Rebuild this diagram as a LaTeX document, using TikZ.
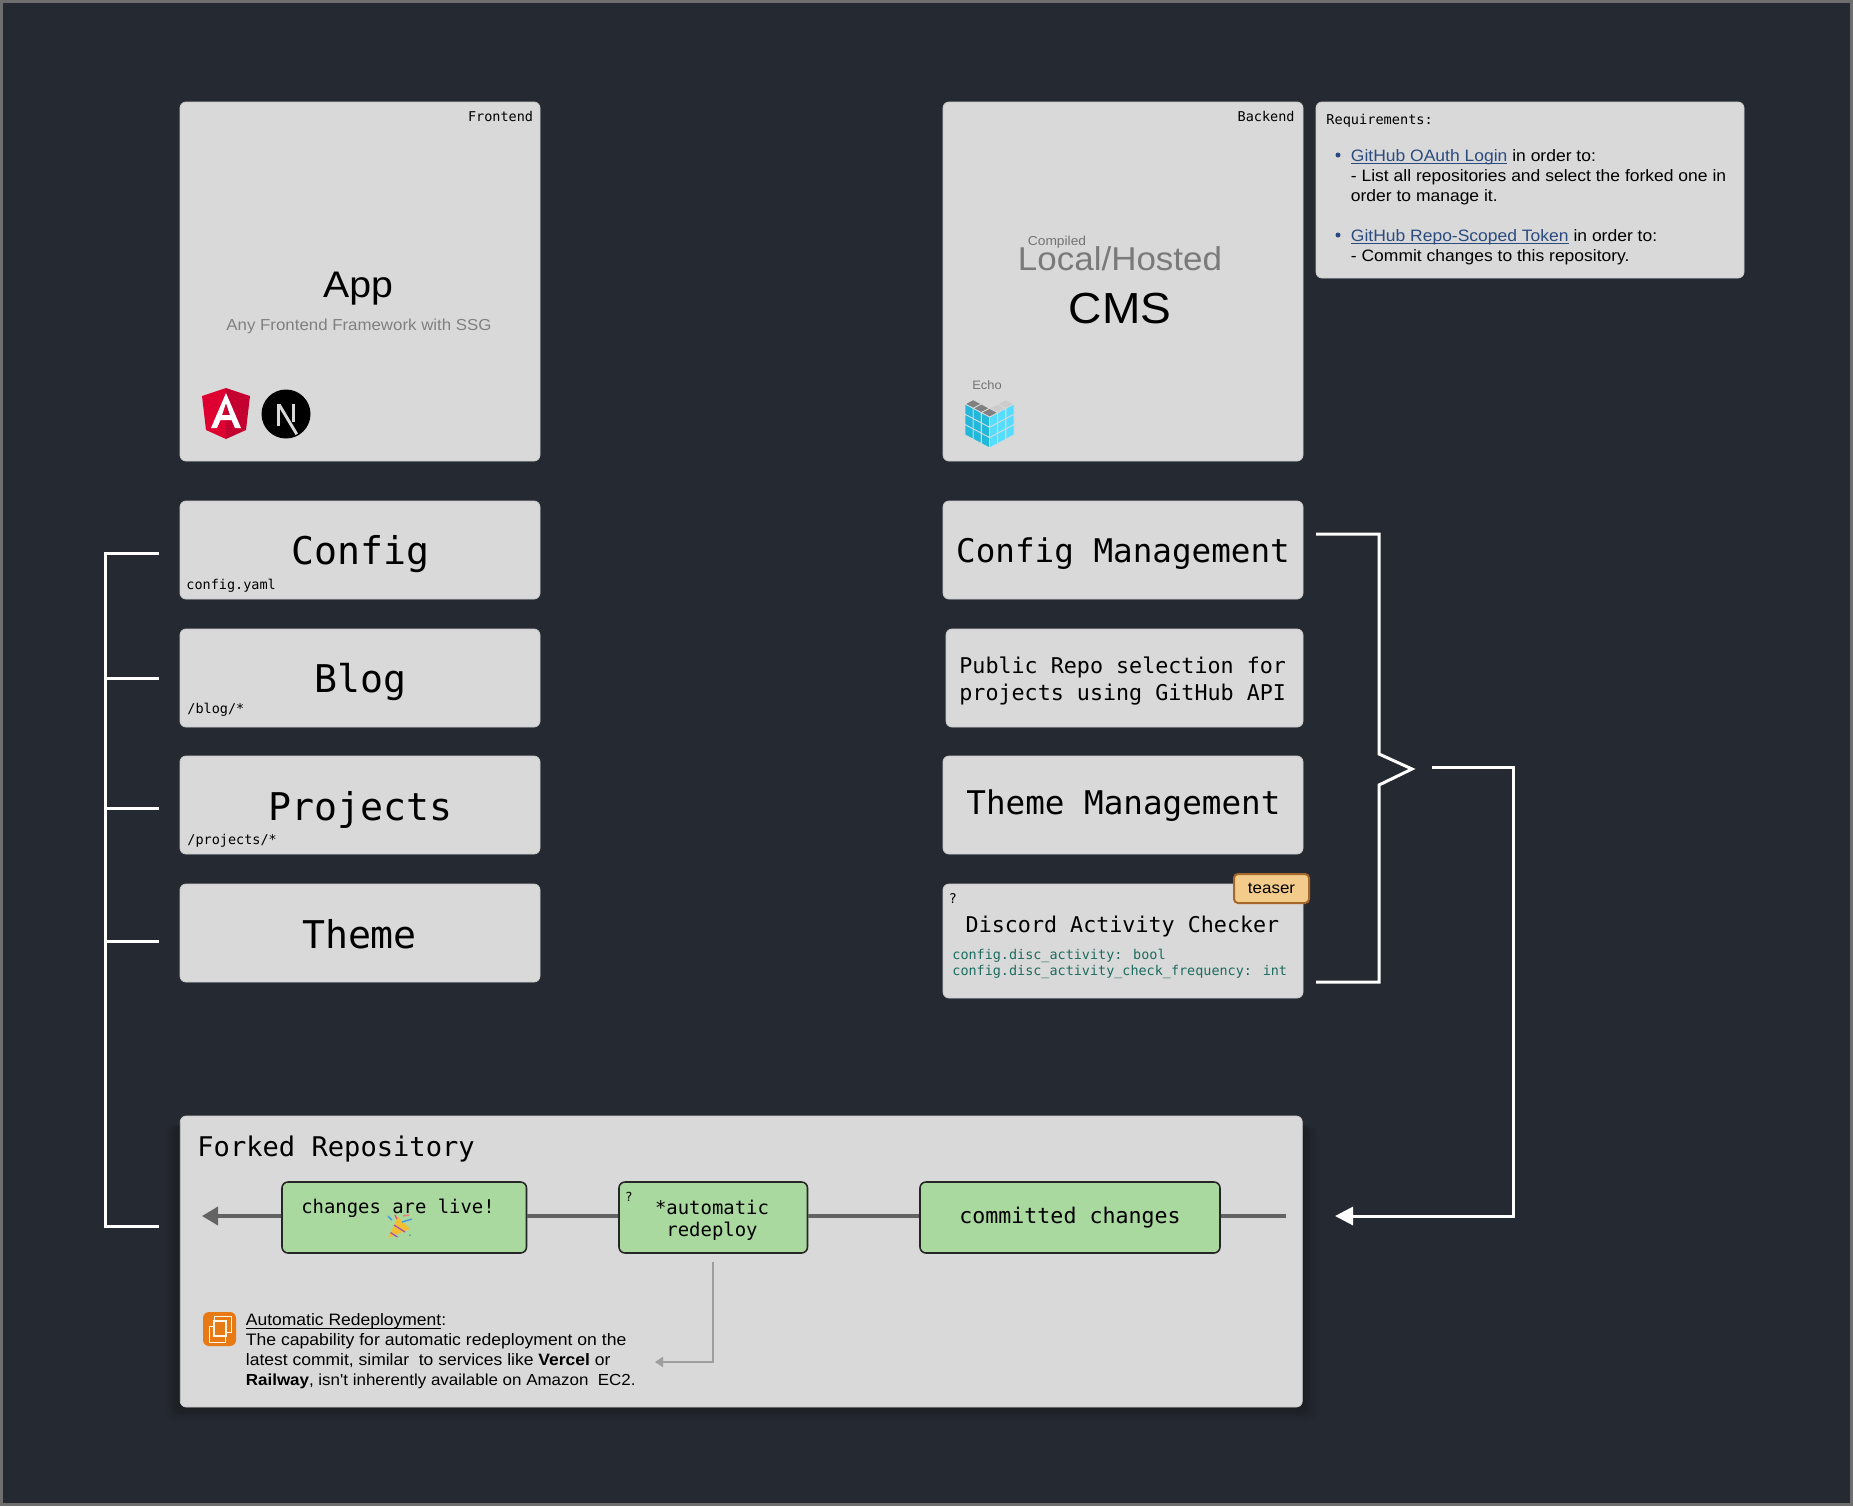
\documentclass[tikz,border=0pt]{standalone}
\usepackage{fontspec}
\usetikzlibrary{arrows.meta,calc}
\setmainfont{Liberation Sans}
\newfontfamily\monof{DejaVu Sans Mono}
\newfontfamily\sansf[FakeStretch=1.06]{Liberation Sans}
\newcommand\fz[1]{\fontsize{\fpeval{#1*0.5}}{\fpeval{#1*0.6}}\selectfont}
\newcommand\ulsmash[1]{\underline{\smash{#1}}}
\definecolor{bgdark}{HTML}{252A32}
\definecolor{frameg}{HTML}{6E6E6E}
\definecolor{panel}{HTML}{D9D9D9}
\definecolor{greenbox}{HTML}{AAD9A0}
\definecolor{linkc}{HTML}{2A4B80}
\definecolor{teal}{HTML}{1C6B5F}
\definecolor{flowc}{HTML}{636363}
\tikzset{
  panelbox/.style={fill=panel,draw=panel!93!black,line width=0.4pt,rounded corners=3pt,inner sep=0pt},
  greenb/.style={fill=greenbox,draw=black!85,line width=0.8pt,rounded corners=3pt,inner sep=0pt,minimum height=35.5pt,font=\monof},
  wire/.style={draw=white,line width=1.5pt,line join=miter},
  flow/.style={draw=flowc,line width=1.8pt},
  mono/.style={inner sep=0pt,font=\monof,text=black},
  sans/.style={inner sep=0pt,font=\sansf,text=black},
}
\begin{document}
\begin{tikzpicture}[x=0.5pt,y=-0.5pt]
\useasboundingbox (0,0) rectangle (1853,1506);
\fill[frameg] (0,0) rectangle (1853,1506);
\fill[bgdark] (3,3) rectangle (1850,1503);
% shadow of forked panel
\foreach \o in {14,11,8,5,2}
  \fill[black,opacity=0.05,rounded corners=4pt] ($(180,1125)+(-\o,0)$) rectangle ($(1302.5,1407)+(\o,\o)$);
% panels
\node[panelbox,minimum width=180pt,minimum height=179.5pt] (frontend) at (360,281.5) {};
\node[panelbox,minimum width=180pt,minimum height=179.5pt] (backend) at (1123,281.5) {};
\node[panelbox,minimum width=214pt,minimum height=88pt] (req) at (1530,190) {};
\node[panelbox,minimum width=180pt,minimum height=49pt] (config) at (360,550) {};
\node[panelbox,minimum width=180pt,minimum height=49pt] (blog) at (360,678) {};
\node[panelbox,minimum width=180pt,minimum height=49pt] (projects) at (360,805) {};
\node[panelbox,minimum width=180pt,minimum height=49pt] (theme) at (360,933) {};
\node[panelbox,minimum width=180pt,minimum height=49pt] (cfgm) at (1123,550) {};
\node[panelbox,minimum width=178.5pt,minimum height=49pt] (repo) at (1124.5,678) {};
\node[panelbox,minimum width=180pt,minimum height=49pt] (themem) at (1123,805) {};
\node[panelbox,minimum width=180pt,minimum height=57pt] (discord) at (1123,941) {};
\node[panelbox,minimum width=561pt,minimum height=145.5pt] (fork) at (741.25,1261.5) {};
% frontend text
\node[mono,anchor=east] (fe) at (533.5,116) {\fz{13.5}Frontend};
\node[sans] (app) at (358,288.5) {\fz{37}App};
\node[sans,text=black!50] (anyfw) at (359,326.5) {\fz{15.9}Any Frontend Framework with SSG};
% angular
\fill[fill={rgb,255:red,221;green,0;blue,49}] (226,388) -- (202,396) -- (206,430) -- (226,439) -- cycle;
\fill[fill={rgb,255:red,195;green,0;blue,47}] (226,388) -- (250,396) -- (246,430) -- (226,439) -- cycle;
\fill[white,even odd rule] (226,393) -- (211,428) -- (217,428) -- (220.5,420) -- (231.5,420) -- (235,428) -- (241,428) -- cycle
   (226,403) -- (222,415) -- (230,415) -- cycle;
% next
\fill[black] (286,414) circle[radius=24.5];
\fill[white!85!black] (277,404) rectangle (280,426);
\fill[white!85!black] (292,404) rectangle (295,422);
\fill[white!85!black] (277,404) -- (280.5,404) -- (298,433.5) -- (295.5,435) -- cycle;
% backend text
\node[mono,anchor=east] (be) at (1295,116) {\fz{13.5}Backend};
\node[sans,text=black!55] (compiled) at (1057,242) {\fz{13}Compiled};
\node[sans,text=black!52] (local) at (1120,259) {\fz{33}Local/Hosted};
\node[sans] (cms) at (1120,309) {\fz{43.5}CMS};
\node[sans,text=black!55] (echo) at (987,385) {\fz{12.2}Echo};
% cube
\foreach \i in {0,1,2}{
  \pgfmathsetmacro\xl{965+8.17*\i}\pgfmathsetmacro\yl{404+4.33*\i}
  \pgfmathsetmacro\xr{989.5+8.17*\i}\pgfmathsetmacro\yr{417-4.33*\i}
  \fill[black!50,draw=panel,line width=0.4pt] (\xl,\yl) -- ++(8.17,4.33) -- ++(8.17,-4.33) -- ++(-8.17,-4.33) -- cycle;
  \fill[black!20,draw=panel,line width=0.4pt] (\xr,\yr) -- ++(8.17,-4.33) -- ++(-8.17,-4.33) -- ++(-8.17,4.33) -- cycle;
  \foreach \j in {0,1,2}{
    \fill[fill={rgb,255:red,34;green,184;blue,220},draw=panel,line width=0.4pt] ($(\xl,\yl)+(0,10.3*\j)$) -- ++(8.17,4.33) -- ++(0,10.3) -- ++(-8.17,-4.33) -- cycle;
    \fill[fill={rgb,255:red,85;green,221;blue,255},draw=panel,line width=0.4pt] ($(\xr,\yr)+(0,10.3*\j)$) -- ++(8.17,-4.33) -- ++(0,10.3) -- ++(-8.17,4.33) -- cycle;
  }
}
% requirements
\node[mono,anchor=west] (reqt) at (1326,120.5) {\fz{13.6}Requirements:};
\fill[linkc] (1338,155) circle[radius=2.5];
\fill[linkc] (1338,235) circle[radius=2.5];
\node[sans,anchor=base west] (r1) at (1350.5,161) {\fz{16.5}\textcolor{linkc}{\ulsmash{GitHub OAuth Login}} in order to:};
\node[sans,anchor=base west] (r2) at (1350.5,181) {\fz{16.5}- List all repositories and select the forked one in};
\node[sans,anchor=base west] (r3) at (1350.5,201) {\fz{16.5}order to manage it.};
\node[sans,anchor=base west] (r4) at (1350.5,241) {\fz{16.5}\textcolor{linkc}{\ulsmash{GitHub Repo-Scoped Token}} in order to:};
\node[sans,anchor=base west] (r5) at (1350.5,261) {\fz{16.5}- Commit changes to this repository.};
% left column
\node[mono] (t1) at (360.5,554.5) {\fz{38.2}Config};
\node[mono,anchor=west] (s1) at (186,586) {\fz{13.5}config.yaml};
\node[mono] (t2) at (360.5,681.5) {\fz{38.2}Blog};
\node[mono,anchor=west] (s2) at (187,710) {\fz{13.5}/blog/*};
\node[mono] (t3) at (360.5,809.5) {\fz{38.2}Projects};
\node[mono,anchor=west] (s3) at (187,841) {\fz{13.5}/projects/*};
\node[mono] (t4) at (359.5,934) {\fz{38.2}Theme};
% right column
\node[mono] (m1) at (1123,553.5) {\fz{32.6}Config Management};
\node[mono,anchor=west] (m2a) at (959,667.5) {\fz{21.7}Public Repo selection for};
\node[mono,anchor=west] (m2b) at (959,694.5) {\fz{21.7}projects using GitHub API};
\node[mono] (m3) at (1123.5,805.5) {\fz{32.6}Theme Management};
\node[mono] (q1) at (953,899) {\fz{13.4}?};
\node[mono] (m4) at (1122.5,926) {\fz{21.7}Discord Activity Checker};
\node[mono,anchor=west,text=teal] (c1) at (952,956) {\fz{13.45}config.disc\_activity: bool};
\node[mono,anchor=west,text=teal] (c2) at (952,972) {\fz{13.45}config.disc\_activity\_check\_frequency: int};
\node[fill={rgb,255:red,243;green,204;blue,139},draw={rgb,255:red,165;green,103;blue,42},line width=1pt,rounded corners=2pt,minimum width=37.5pt,minimum height=14.5pt,inner sep=0pt,font=\sansf] (teaser) at (1271.5,888.5) {\fz{16}teaser};
% forked
\node[mono,anchor=west] (forkt) at (197,1149.5) {\fz{27.1}Forked Repository};
\coordinate (inR) at (1286,1216);
\coordinate (outL) at (202,1216);
\node[greenb,minimum width=122.25pt] (live) at (404.25,1217.5) {};
\node[greenb,minimum width=94.25pt] (redeploy) at (713.25,1217.5) {};
\node[greenb,minimum width=150pt] (committed) at (1070,1217.5) {\fz{21.6}committed changes};
\draw[flow] (inR) -- (inR -| committed.east);
\draw[flow] (committed.west |- inR) -- (redeploy.east |- inR);
\draw[flow] (redeploy.west |- inR) -- (live.east |- inR);
\draw[flow,-{Triangle[length=8pt,width=9pt]}] (live.west |- inR) -- (outL);
\node[mono] (livet) at (398,1208.5) {\fz{18.9}changes are live!};
\node[mono] (auto1) at (712,1207) {\fz{18.9}*automatic};
\node[mono] (auto2) at (712,1231) {\fz{18.9}redeploy};
\node[mono] (q2) at (629,1197) {\fz{12.5}?};
% popper
\fill[fill={rgb,255:red,244;green,190;blue,50}] (388,1238) -- (398,1217) -- (410,1229) -- cycle;
\draw[draw={rgb,255:red,150;green,80;blue,190},line width=0.6pt] (390.5,1232.5) -- (397.5,1237);
\draw[draw={rgb,255:red,150;green,80;blue,190},line width=0.6pt] (394,1225) -- (405,1232);
\draw[draw={rgb,255:red,70;green,150;blue,230},line width=0.7pt] (402,1222) -- (412,1219);
\draw[draw={rgb,255:red,230;green,80;blue,120},line width=0.7pt] (395,1215) -- (397,1219);
\draw[draw={rgb,255:red,70;green,150;blue,230},line width=0.7pt] (388,1216) -- (392,1220);
\draw[draw={rgb,255:red,230;green,130;blue,120},line width=0.7pt] (403,1216) -- (409,1215);
\fill[fill={rgb,255:red,70;green,170;blue,120}] (410,1235) circle[radius=1];
% EC2 icon
\fill[fill={rgb,255:red,232;green,122;blue,22},rounded corners=3pt] (203,1312) rectangle (236,1346);
\draw[white!92!orange,line width=0.5pt] (214,1326) -- (209,1326) -- (209,1342) -- (225,1342) -- (225,1337);
\draw[white!92!orange,line width=0.5pt] (214,1325) -- (214,1316) -- (231,1316) -- (231,1332) -- (225,1332);
\draw[white!92!orange,fill={rgb,255:red,232;green,122;blue,22},line width=0.8pt] (214,1321) rectangle (226,1336);
% auto text
\node[sans,anchor=base west] (a1) at (245.5,1325.5) {\fz{16.5}\ulsmash{Automatic Redeployment}:};
\node[sans,anchor=base west] (a2) at (245.5,1345.5) {\fz{16.6}The capability for automatic redeployment on the};
\node[sans,anchor=base west] (a3) at (245.5,1365.5) {\fz{16.5}latest commit, similar\ \ to services like \textbf{Vercel} or};
\node[sans,anchor=base west] (a4) at (245.5,1385.5) {\fz{16}\textbf{Railway}, isn't inherently available on Amazon\ \ EC2.};
\coordinate (noteEnd) at (655,1362);
\draw[draw=black!38,line width=1pt,-{Triangle[length=4pt,width=5pt]}] ($(redeploy.south)+(0,8)$) |- (noteEnd);
% left bracket
\coordinate (lb1) at (159,553);
\coordinate (lb2) at (159,678);
\coordinate (lb3) at (159,808);
\coordinate (lb4) at (159,941);
\coordinate (lb5) at (159,1226);
\draw[wire] (lb1) -- (105,553) -- (105,1226) -- (lb5);
\draw[wire] (105,678) -- (lb2);
\draw[wire] (105,808) -- (lb3);
\draw[wire] (105,941) -- (lb4);
% right bracket
\coordinate (rb1) at (1316,534);
\coordinate (rb2) at (1316,982);
\draw[wire] (rb1) -- (1379,534) -- (1379,754) -- (1412,769) -- (1379,785) -- (1379,982) -- (rb2);
\coordinate (busS) at (1432,767.5);
\coordinate (busE) at (1335,1216);
\draw[wire,-{Triangle[length=9pt,width=9pt]}] (busS) -- (1513,767.5) -- (1513,1216) -- (busE);
\end{tikzpicture}
\end{document}
